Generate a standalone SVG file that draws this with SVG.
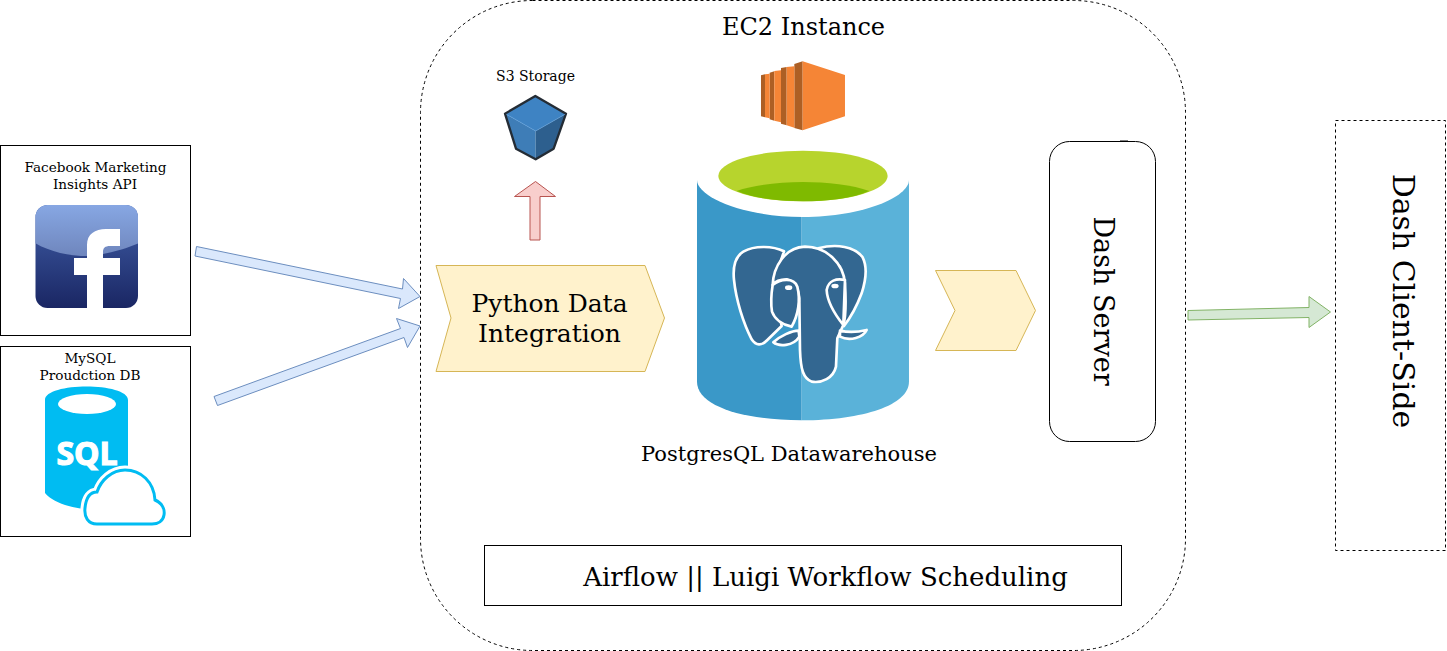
<svg xmlns="http://www.w3.org/2000/svg" width="1447" height="651" viewBox="0 0 1447 651">
<style>
text{font-family:"DejaVu Serif",serif;fill:#000;text-anchor:middle}
.box{fill:#fff;stroke:#000;stroke-width:1}
.dash{fill:#fff;stroke:#000;stroke-width:1;stroke-dasharray:3 3}
.blue{fill:#dae8fc;stroke:#6c8ebf}
.green{fill:#d5e8d4;stroke:#82b366}
.red{fill:#f8cecc;stroke:#b85450}
.yellow{fill:#fff2cc;stroke:#d6b656}
.eleph{fill:#336791;stroke:#fff;stroke-width:8;stroke-linejoin:round}
</style>
<defs>
<linearGradient id="fbTop" x1="0" y1="0" x2="0" y2="1"><stop offset="0" stop-color="#87a7e3"/><stop offset="1" stop-color="#6f86bd"/></linearGradient>
<linearGradient id="fbBot" x1="0" y1="0" x2="0" y2="1"><stop offset="0" stop-color="#4160aa"/><stop offset="1" stop-color="#1a2663"/></linearGradient>
<clipPath id="fbClip"><rect x="35.500" y="205" width="102.500" height="103" rx="12"/></clipPath>
</defs>

<g id="ec2-instance">
<rect class="dash" x="420.5" y="0.5" width="765" height="650" rx="112" ry="112"/>
<text x="803.500" y="35" font-size="24">EC2 Instance</text>
<g transform="translate(680 50) scale(.3333)">
<path fill="#ad5f24" d="M243 76L255 73V202L243 199ZM269 68L283 64V212L269 208ZM303 54L320 51V226L303 221ZM343 42L368 34V241L343 234Z"/>
<path fill="#f58536" d="M368 34L495 75V199L368 241ZM255 73L269 71V205L255 202ZM283 63L303 61V217L283 212ZM320 51L343 49V233L320 226Z"/>
</g>
</g>

<g id="s3-storage">
<text x="535.500" y="81" font-size="14">S3 Storage</text>
<g transform="translate(480 60) scale(.3333)">
<path fill="#3e83c3" d="M166 108L258 161L167 213L75 161Z"/>
<path fill="#3e7db7" d="M75 161L167 213V298L108 266Z"/>
<path fill="#2d5f8e" d="M258 161L167 213V298L221 266Z"/>
<path fill="none" stroke="#242c35" stroke-width="7" stroke-linejoin="round" d="M166 108L258 161L221 266L167 298L108 266L75 161Z"/>
<path fill="none" stroke="#5fa0dc" stroke-width="2" d="M80 163L167 213L255 163"/>
</g>
</g>

<g id="python-data-integration">
<path class="yellow" d="M436 265.500H645L664.500 318L645 371.500H436L451 318Z"/>
<text x="549.500" y="312" font-size="25">Python Data</text>
<text x="549.500" y="342" font-size="25">Integration</text>
</g>

<g id="postgres-datawarehouse">
<g transform="translate(680 50) scale(.3333)">
<path fill="#3a98c8" d="M51 390H365V1111C180 1110 51 1065 51 995Z"/>
<path fill="#5ab2d9" d="M365 390H687V995C687 1065 550 1110 365 1111Z"/>
<path fill="#fff" d="M51 390C51 340 190 290 369 290S687 340 687 390S550 501 369 501S51 440 51 390Z"/>
<ellipse cx="369" cy="378" rx="254" ry="76" fill="#b7d42d"/>
<path fill="#7fba00" d="M170 423C220 405 300 396 369 396S520 405 568 423C520 445 440 454 369 454S220 445 170 423Z"/>
<path class="eleph" d="M312 604C280 588 225 585 190 605C165 620 158 650 162 690C168 750 190 820 215 868C228 888 245 888 262 870L305 828L280 700Z"/>
<path class="eleph" d="M415 595C470 580 525 590 548 622C562 650 558 690 545 730C530 770 510 805 492 828L470 800L480 650Z"/>
<path class="eleph" d="M278 705C280 650 315 592 375 590C440 590 490 640 495 700C498 750 498 800 490 825L472 865L468 950C460 985 425 1000 395 995C370 985 362 960 360 900L358 745C355 715 345 695 320 688C300 688 285 695 278 705Z"/>
<path class="eleph" d="M278 705C300 688 340 680 352 710C362 750 355 795 335 830C310 825 285 810 276 785C272 760 274 730 278 705Z"/>
<path class="eleph" d="M495 690C470 685 445 690 440 720C442 760 470 800 490 825Z"/>
<path class="eleph" d="M356 842C335 842 300 858 280 877C295 890 340 890 358 860Z"/>
<path class="eleph" d="M480 842C505 848 540 845 560 840C550 862 510 875 480 860Z"/>
<ellipse cx="326" cy="713" rx="11" ry="7" fill="#fff"/>
<ellipse cx="465" cy="708" rx="11" ry="7" fill="#fff"/>
</g>
<text x="789" y="461" font-size="21">PostgresQL Datawarehouse</text>
</g>

<g id="transfer-step">
<path class="yellow" d="M935.500 270.500H1016L1035.500 310.500L1016 350.500H935.500L955 310.500Z"/>
</g>

<g id="dash-server">
<path stroke="#000" fill="none" d="M1120 141H1128"/>
<rect class="box" x="1049.500" y="141.500" width="106" height="300" rx="20" ry="20"/>
<text transform="translate(1094 301) rotate(90)" font-size="27">Dash Server</text>
</g>

<g id="dash-client-side">
<rect class="dash" x="1335.500" y="120.500" width="110" height="430"/>
<text transform="translate(1393 301) rotate(90)" font-size="30">Dash Client-Side</text>
</g>

<g id="workflow-scheduling">
<rect class="box" x="484.500" y="545.500" width="637" height="60"/>
<text x="825.500" y="586" font-size="26">Airflow || Luigi Workflow Scheduling</text>
</g>

<g id="facebook-api">
<rect class="box" x="0.500" y="145.500" width="190" height="190"/>
<text x="95.500" y="172" font-size="13.600">Facebook Marketing</text>
<text x="95" y="189" font-size="13.600">Insights API</text>
<g clip-path="url(#fbClip)">
<rect x="35" y="205" width="104" height="103" fill="url(#fbBot)"/>
<path fill="url(#fbTop)" d="M35 205H139V243C118 252 95 256 86 256C70 256 50 252 35 243Z"/>
<path fill="#fff" d="M87 308V275H74V258H87V245C87 234 95 229 106 229H120V246H110C105 246 103 248 103 252V258H120V275H103V308Z"/>
</g>
</g>

<g id="mysql-db">
<rect class="box" x="0.500" y="346.500" width="190" height="190"/>
<text x="90" y="363" font-size="13.600">MySQL</text>
<text x="90" y="380" font-size="13.600">Proudction DB</text>
<path fill="#00bcf2" d="M45 400C45 382 128 382 128 400V490H100V510C80 510 55 505 45 493Z"/>
<ellipse cx="87" cy="404" rx="29" ry="10" fill="#fff"/>
<text x="87" y="465" font-size="32" font-weight="700" stroke="#fff" stroke-width="1.200" style="font-family:'Open Sans',sans-serif;fill:#fff">SQL</text>
<path fill="#fff" stroke="#fff" stroke-width="9" d="M97 524C88 524 84 517 85 508C86 498 90 492 97 492C101 480 112 470 125 470C141 470 154 482 155 500C162 503 165 509 164 515C163 521 158 524 152 524Z"/>
<path fill="#fff" stroke="#00bcf2" stroke-width="3" d="M97 524C88 524 84 517 85 508C86 498 90 492 97 492C101 480 112 470 125 470C141 470 154 482 155 500C162 503 165 509 164 515C163 521 158 524 152 524Z"/>
</g>

<g id="connectors">
<path class="blue" d="M196.500 246.500L402.500 289L403.500 278.500L420 296.500L398.500 308.500L400.500 298.500L195 256Z"/>
<path class="blue" d="M214 396.500L400.500 328.500L396.500 318.500L420 326L407.500 347.500L404 337.500L217.500 405.500Z"/>
<path class="red" d="M535.500 181.500L555.500 196.500H540V240H530V196.500H514.500Z"/>
<path class="green" d="M1188 310.500L1309 307.500V296.500L1330.500 312L1309 327.500V317.500L1188 320Z"/>
</g>
</svg>
